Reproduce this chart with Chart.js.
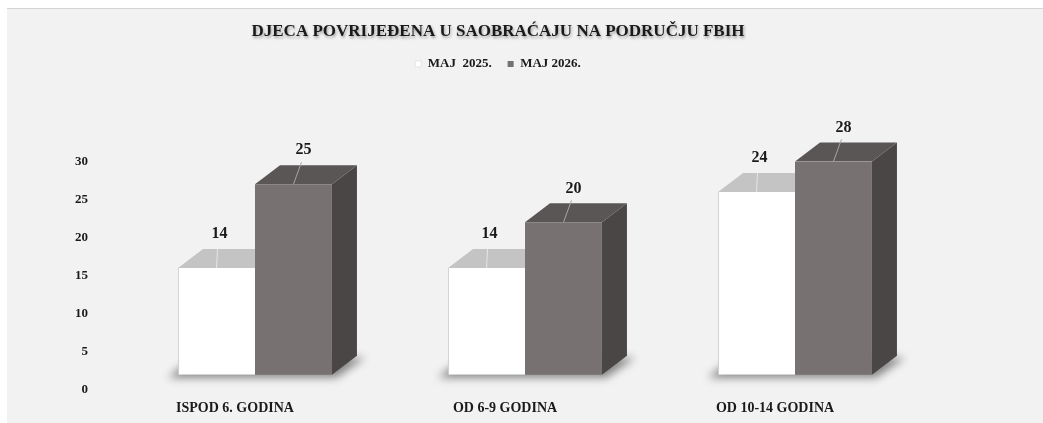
<!DOCTYPE html>
<html>
<head>
<meta charset="utf-8">
<script src="https://cdn.jsdelivr.net/npm/chart.js@4.4.1/dist/chart.umd.min.js"></script>
<style>
  html, body { margin: 0; padding: 0; background: #fff; }
  #wrap { position: absolute; left: 0; top: 0; width: 1043px; height: 423px; }
</style>
</head>
<body>
<div id="wrap"><canvas id="chart"></canvas></div>
<script>
// data
const categories = ["ISPOD 6. GODINA", "OD 6-9 GODINA", "OD 10-14 GODINA"];
const seriesNames = ["MAJ  2025.", "MAJ 2026."];
const values2025 = [14, 14, 24];
const values2026 = [25, 20, 28];
const yTickStep = 5;
const yTickMax = 30;

const FONT = "'Liberation Serif', 'DejaVu Serif', serif";
const TEXT = "#1a1a1a";

// colours of the 3d faces: [front, top, side]
const faces = [
  ["#ffffff", "#c4c4c4", "#d8d8d8"],
  ["#777271", "#5a5655", "#4a4645"],
];
const DEPTH_X = 25;
const DEPTH_Y = 19;

const background = {
  id: "background",
  beforeDraw(chart) {
    const ctx = chart.ctx;
    ctx.save();
    ctx.fillStyle = "#ffffff";
    ctx.fillRect(0, 0, chart.width, chart.height);
    ctx.fillStyle = "#f2f2f2";
    ctx.fillRect(7, 9, chart.width - 7, chart.height - 9);
    ctx.strokeStyle = "#d4d4d4";
    ctx.lineWidth = 1;
    ctx.beginPath();
    ctx.moveTo(7, 8.5);
    ctx.lineTo(chart.width, 8.5);
    ctx.stroke();
    ctx.restore();
  },
};

// taller legend box so the plot starts lower, and a soft shadow on the title
const layoutTweaks = {
  id: "layoutTweaks",
  beforeInit(chart) {
    const fit = chart.legend.fit;
    chart.legend.fit = function () {
      fit.bind(chart.legend)();
      this.height += 81;
    };
    const title = chart.titleBlock;
    const draw = title.draw;
    title.draw = function () {
      const ctx = chart.ctx;
      ctx.save();
      ctx.shadowColor = "rgba(0,0,0,0.35)";
      ctx.shadowBlur = 3;
      ctx.shadowOffsetX = 1;
      ctx.shadowOffsetY = 2;
      draw.bind(title)();
      ctx.restore();
    };
  },
};

const poly = (ctx, pts, color) => {
  ctx.beginPath();
  ctx.moveTo(pts[0][0], pts[0][1]);
  for (let i = 1; i < pts.length; i++) ctx.lineTo(pts[i][0], pts[i][1]);
  ctx.closePath();
  ctx.fillStyle = color;
  ctx.fill();
};

const bar3d = {
  id: "bar3d",
  beforeDatasetsDraw(chart) {
    const ctx = chart.ctx;
    const m0 = chart.getDatasetMeta(0);
    const m1 = chart.getDatasetMeta(1);
    ctx.save();
    // floor shadow under each group
    ctx.filter = "blur(4px)";
    m0.data.forEach((b0, i) => {
      const b1 = m1.data[i];
      const l = b0.x - b0.width / 2;
      const r = b1.x + b1.width / 2;
      const base = b0.base;
      poly(ctx, [
        [l - 10, base + 3],
        [r + 4, base + 3],
        [r + DEPTH_X + 8, base - DEPTH_Y + 2],
        [l + DEPTH_X - 10, base - DEPTH_Y + 2],
      ], "rgba(0,0,0,0.45)");
    });
    ctx.filter = "none";
    // top and side faces
    [m0, m1].forEach((meta, d) => {
      meta.data.forEach((b) => {
        const l = b.x - b.width / 2;
        const r = b.x + b.width / 2;
        poly(ctx, [
          [r, b.y], [r + DEPTH_X, b.y - DEPTH_Y],
          [r + DEPTH_X, b.base - DEPTH_Y], [r, b.base],
        ], faces[d][2]);
        poly(ctx, [
          [l, b.y], [r, b.y],
          [r + DEPTH_X, b.y - DEPTH_Y], [l + DEPTH_X, b.y - DEPTH_Y],
        ], faces[d][1]);
      });
    });
    ctx.restore();
  },
  afterDatasetsDraw(chart) {
    const ctx = chart.ctx;
    const shift = [3, 10];
    ctx.save();
    chart.data.datasets.forEach((ds, d) => {
      chart.getDatasetMeta(d).data.forEach((b, i) => {
        const lx = b.x + shift[d];
        const ly = b.y - 34;
        ctx.strokeStyle = d === 0 ? "#e6e6e6" : "#a8a4a3";
        ctx.lineWidth = 1;
        ctx.beginPath();
        ctx.moveTo(b.x, b.y);
        ctx.lineTo(d === 0 ? b.x + 1 : lx - 2, d === 0 ? b.y - DEPTH_Y : ly + 12);
        ctx.stroke();
        ctx.fillStyle = TEXT;
        ctx.font = "bold 16px " + FONT;
        ctx.textAlign = "center";
        ctx.textBaseline = "middle";
        ctx.fillText(String(ds.data[i]), lx, ly);
      });
    });
    ctx.restore();
  },
};

new Chart(document.getElementById("chart"), {
  type: "bar",
  data: {
    labels: categories,
    datasets: [
      {
        label: seriesNames[0],
        data: values2025,
        backgroundColor: faces[0][0],
        borderColor: "#d0d0d0",
        borderWidth: { left: 1, right: 0, top: 0, bottom: 1 },
        yAxisID: "yBar",
      },
      {
        label: seriesNames[1],
        data: values2026,
        backgroundColor: faces[1][0],
        yAxisID: "yBar",
      },
    ],
  },
  options: {
    responsive: true,
    maintainAspectRatio: false,
    animation: false,
    categoryPercentage: 0.57,
    barPercentage: 1,
    layout: { padding: { left: 66, right: 113, top: 0, bottom: 5 } },
    plugins: {
      title: {
        display: true,
        text: "DJECA POVRIJEĐENA U SAOBRAĆAJU NA PODRUČJU FBIH",
        color: TEXT,
        font: { family: FONT, size: 17, weight: "bold" },
        padding: { top: 21, bottom: 0 },
      },
      legend: {
        display: true,
        labels: {
          color: TEXT,
          font: { family: FONT, size: 13, weight: "bold" },
          boxWidth: 6,
          boxHeight: 6,
          padding: 16,
        },
      },
      tooltip: { enabled: false },
    },
    scales: {
      x: {
        grid: { display: false, drawTicks: false },
        border: { display: false },
        ticks: {
          color: TEXT,
          font: { family: FONT, size: 14, weight: "bold" },
          padding: 10,
          labelOffset: -20,
          maxRotation: 0,
        },
        afterFit(axis) {
          axis.height = 28;
        },
      },
      y: {
        min: 0,
        max: yTickMax,
        grid: { display: false, drawTicks: false },
        border: { display: false },
        ticks: {
          stepSize: yTickStep,
          color: TEXT,
          font: { family: FONT, size: 13, weight: "bold" },
          padding: 32,
        },
        afterFit(axis) {
          axis.width = 54;
          axis.paddingTop = 0;
          axis.paddingBottom = 0;
        },
      },
      // bars stand on the floor of the 3d box, a bit above the axis zero
      yBar: {
        display: false,
        min: -2,
        max: 28,
      },
    },
  },
  plugins: [background, layoutTweaks, bar3d],
});
</script>
</body>
</html>
